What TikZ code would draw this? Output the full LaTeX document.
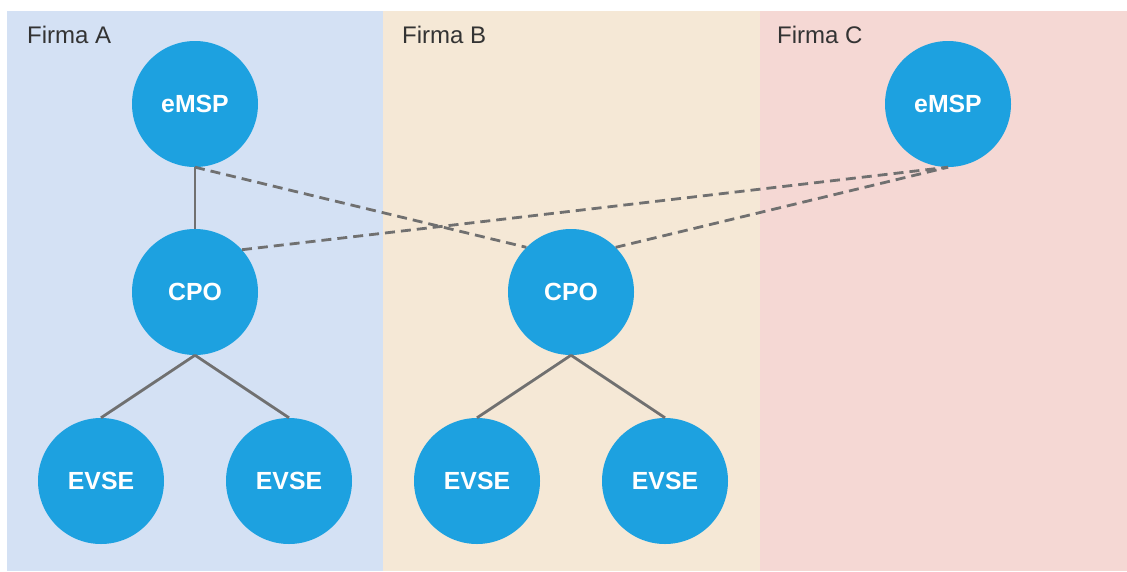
\documentclass[tikz,border=0pt]{standalone}
\usepackage{fontspec}
\setmainfont{Liberation Sans}
\definecolor{panelA}{RGB}{212,225,244}
\definecolor{panelB}{RGB}{245,232,214}
\definecolor{panelC}{RGB}{245,216,212}
\definecolor{nodeblue}{RGB}{29,161,224}
\definecolor{linegray}{RGB}{112,112,112}
\definecolor{labelgray}{RGB}{51,51,51}
\tikzset{
  entity/.style={circle, fill=nodeblue, minimum size=126pt, inner sep=0pt, text=white,
    font=\fontsize{24.8}{25}\selectfont\bfseries},
  firmlabel/.style={anchor=base west, inner sep=0pt, text=labelgray,
    font=\fontsize{24}{24}\selectfont},
  link/.style={draw=linegray, line width=2.8pt},
  dlink/.style={draw=linegray, line width=2.8pt, dash pattern=on 10pt off 6pt},
}
\begin{document}
\begin{tikzpicture}[x=1pt,y=-1pt]
\useasboundingbox (0,0) rectangle (1127,571);
\fill[panelA] (7,11) rectangle (383,571);
\fill[panelB] (383,11) rectangle (760,571);
\fill[panelC] (760,11) rectangle (1127,571);
\node[firmlabel] (la) at (27,43) {Firma A};
\node[firmlabel] (lb) at (402,43) {Firma B};
\node[firmlabel] (lc) at (777,43) {Firma C};
\node[entity] (emspA) at (195,104) {eMSP};
\node[entity] (cpoA) at (195,292) {CPO};
\node[entity] (evseA1) at (101,481) {EVSE};
\node[entity] (evseA2) at (289,481) {EVSE};
\node[entity] (cpoB) at (571,292) {CPO};
\node[entity] (evseB1) at (477,481) {EVSE};
\node[entity] (evseB2) at (665,481) {EVSE};
\node[entity] (emspC) at (948,104) {eMSP};
\draw[link] (emspA.south) -- (cpoA.north);
\draw[link] (cpoA.south) -- (evseA1.north);
\draw[link] (cpoA.south) -- (evseA2.north);
\draw[link] (cpoB.south) -- (evseB1.north);
\draw[link] (cpoB.south) -- (evseB2.north);
\draw[dlink] (emspA.south) -- (cpoB.135);
\draw[dlink] (cpoA.42) -- (emspC.south);
\draw[dlink] (cpoB.45) -- (emspC.south);
\end{tikzpicture}
\end{document}
